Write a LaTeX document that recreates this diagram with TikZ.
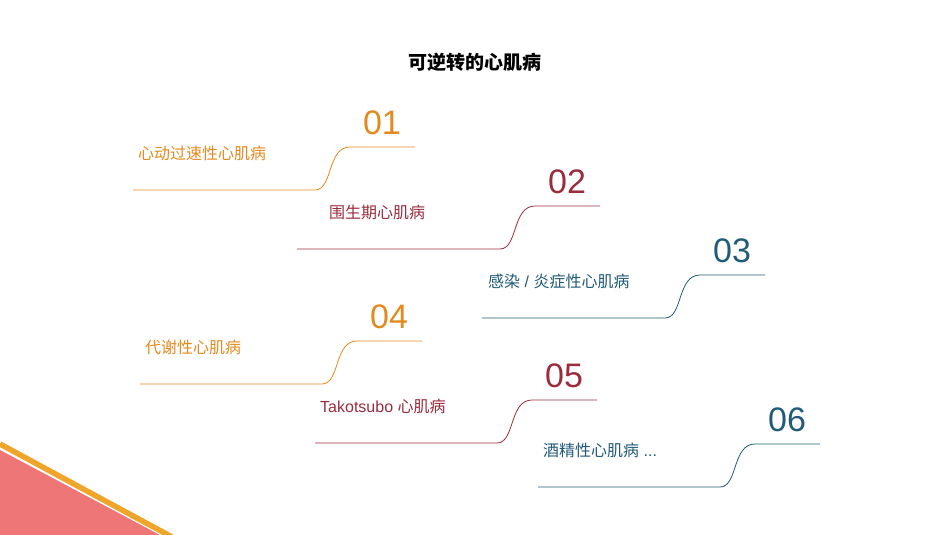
\documentclass[tikz,border=0pt]{standalone}
\usepackage{fontspec}
\newfontfamily\cjk{Noto Sans CJK SC}
\newfontfamily\arial{Liberation Sans}
\definecolor{cO}{HTML}{E38A1F}
\definecolor{cM}{HTML}{9A2C3E}
\definecolor{cT}{HTML}{215B78}
\definecolor{pinkc}{HTML}{EE7676}
\definecolor{bandc}{HTML}{EEA52A}
\begin{document}
\begin{tikzpicture}[x=1pt,y=-1pt,
  lbl/.style={anchor=west,font=\cjk\fontsize{16}{18}\selectfont,inner sep=0},
  num/.style={font=\arial\fontsize{34}{38}\selectfont,inner sep=0},
  conn/.style={line width=0.8pt}]
\useasboundingbox (0,0) rectangle (950,535);
\fill[pinkc] (0,450) -- (160,535) -- (0,535) -- cycle;
\draw[bandc,line width=5.5pt] (0,444) -- (172,537);
\node[font=\cjk\bfseries\fontsize{19}{22}\selectfont] (title) at (475,62) {可逆转的心肌病};
\newcommand\myitem[9]{%
  \coordinate (#8a) at (#2,#3);
  \coordinate (#8b) at (#4,#3);
  \coordinate (#8c) at ({#4+35},#5);
  \coordinate (#8d) at ({#4+100},#5);
  \draw[conn,#1] (#8a) -- (#8b) .. controls ({#4+18},#3) and ({#4+12},#5) .. (#8c) -- (#8d);
  \node[num,#1] (#8n) at ({#4+67},{#5-24}) {#6};
  \node[lbl,#1] (#8l) at (#9,{#5+6}) {#7};
}
\myitem{cO}{133}{190}{315}{147}{01}{心动过速性心肌病}{i1}{138}
\myitem{cM}{297}{249}{500}{206}{02}{围生期心肌病}{i2}{329}
\myitem{cT}{482}{318}{665}{275}{03}{感染\arial{} / \cjk{}炎症性心肌病}{i3}{488}
\myitem{cO}{140}{384}{322}{341}{04}{代谢性心肌病}{i4}{145}
\myitem{cM}{315}{443}{497}{400}{05}{\arial Takotsubo \cjk{}心肌病}{i5}{320}
\myitem{cT}{538}{487}{720}{444}{06}{酒精性心肌病\arial{} ...}{i6}{543}
\end{tikzpicture}
\end{document}
